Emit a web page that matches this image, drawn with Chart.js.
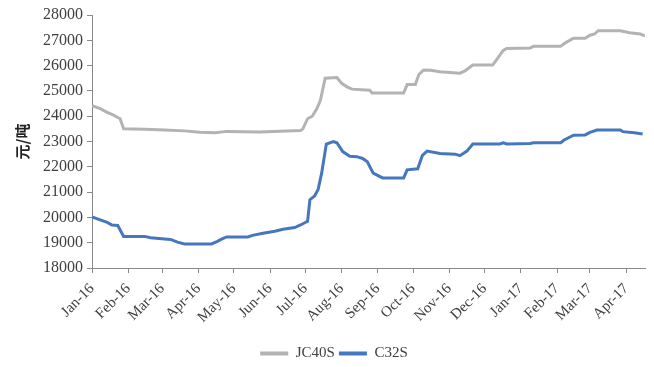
<!DOCTYPE html>
<html>
<head>
<meta charset="utf-8">
<script src="https://cdn.jsdelivr.net/npm/chart.js@4.4.1/dist/chart.umd.min.js"></script>
<style>
  html, body { margin: 0; padding: 0; background: #fff; }
  #wrap { width: 654px; height: 367px; }
</style>
</head>
<body>
<div id="wrap"><canvas id="priceChart" width="654" height="367"></canvas></div>
<script>
// x values are days counted from 1 Jan 2016
const monthDays = [0, 31, 60, 91, 121, 152, 182, 213, 244, 274, 305, 335, 366, 397, 425, 456];
const monthLabels = ['Jan-16', 'Feb-16', 'Mar-16', 'Apr-16', 'May-16', 'Jun-16', 'Jul-16', 'Aug-16',
    'Sep-16', 'Oct-16', 'Nov-16', 'Dec-16', 'Jan-17', 'Feb-17', 'Mar-17', 'Apr-17'];

const jcDays = [0, 7, 13, 18, 22, 24, 27, 45, 62, 79, 92, 105, 115, 143, 178, 180, 184, 188, 192, 195,
    199, 209, 213, 218, 222, 237, 239, 266, 269, 276, 279, 283, 289, 297, 314, 318, 325, 342, 346, 351,
    354, 374, 377, 400, 404, 411, 421, 425, 429, 432, 451, 459, 468, 472];
const jcValues = [24420, 24300, 24150, 24050, 23950, 23900, 23500, 23480, 23450, 23420, 23370, 23350,
    23400, 23380, 23430, 23500, 23900, 24000, 24300, 24640, 25500, 25530, 25300, 25150, 25070, 25030,
    24920, 24920, 25250, 25250, 25650, 25830, 25820, 25760, 25700, 25780, 26020, 26020, 26280, 26600,
    26680, 26700, 26760, 26760, 26900, 27080, 27080, 27200, 27250, 27380, 27380, 27300, 27250, 27180];

const cDays = [0, 7, 13, 17, 22, 27, 45, 50, 62, 67, 73, 79, 102, 107, 111, 115, 133, 137, 146, 156,
    163, 173, 178, 182, 184, 186, 190, 193, 196, 200, 206, 209, 214, 220, 226, 231, 235, 240, 248, 266,
    269, 278, 282, 286, 297, 310, 314, 320, 325, 348, 351, 354, 374, 377, 400, 403, 411, 421, 425, 431,
    451, 453, 463, 470];
const cValues = [20020, 19900, 19800, 19700, 19680, 19250, 19250, 19200, 19150, 19130, 19020, 18950,
    18950, 19050, 19150, 19230, 19230, 19290, 19370, 19450, 19530, 19600, 19700, 19800, 19850, 20700,
    20850, 21100, 21750, 22900, 23000, 22950, 22600, 22420, 22400, 22330, 22200, 21750, 21560, 21560,
    21880, 21920, 22450, 22620, 22530, 22500, 22440, 22620, 22900, 22900, 22950, 22900, 22920, 22950,
    22950, 23060, 23250, 23260, 23360, 23450, 23450, 23390, 23350, 23300];

const toPoints = (days, values) => days.map((d, i) => ({ x: d, y: values[i] }));

const serif = "'Liberation Serif', 'DejaVu Serif', serif";
const axisGray = '#898989';
const textColor = '#404040';

new Chart(document.getElementById('priceChart'), {
    type: 'line',
    data: {
        datasets: [{
            label: 'JC40S',
            data: toPoints(jcDays, jcValues),
            borderColor: '#B3B3B3',
            backgroundColor: '#B3B3B3',
            borderWidth: 3,
            pointRadius: 0,
            tension: 0
        }, {
            label: 'C32S',
            data: toPoints(cDays, cValues),
            borderColor: '#4677BE',
            backgroundColor: '#4677BE',
            borderWidth: 3,
            pointRadius: 0,
            tension: 0
        }]
    },
    options: {
        responsive: false,
        animation: false,
        layout: { padding: { top: 15, right: 9, left: 23, bottom: -4 } },
        plugins: {
            legend: {
                position: 'bottom',
                labels: {
                    boxWidth: 28,
                    boxHeight: 0,
                    font: { family: serif, size: 15 },
                    color: textColor,
                    padding: 4,
                    generateLabels: chart => chart.data.datasets.map((ds, i) => ({
                        text: ds.label,
                        strokeStyle: ds.borderColor,
                        fillStyle: ds.borderColor,
                        lineWidth: 4,
                        fontColor: textColor,
                        datasetIndex: i
                    }))
                }
            },
            tooltip: { enabled: false }
        },
        scales: {
            x: {
                type: 'linear',
                min: 0,
                max: 472,
                afterBuildTicks: scale => {
                    scale.ticks = monthDays.map(v => ({ value: v }));
                },
                afterFit: scale => { scale.height = 74; },
                ticks: {
                    autoSkip: false,
                    maxRotation: 45,
                    minRotation: 45,
                    padding: 7,
                    font: { family: serif, size: 15 },
                    color: textColor,
                    callback: value => monthLabels[monthDays.indexOf(value)]
                },
                grid: { drawOnChartArea: false, drawTicks: true, tickLength: 5, color: axisGray },
                border: { color: axisGray, width: 1 }
            },
            y: {
                min: 18000,
                max: 28000,
                afterFit: scale => { scale.width = 69; },
                ticks: {
                    stepSize: 1000,
                    font: { family: serif, size: 16 },
                    color: textColor,
                    padding: 4,
                    callback: value => String(value)
                },
                title: {
                    display: true,
                    text: '元/吨',
                    font: { family: "'Noto Sans CJK SC', sans-serif", size: 15, weight: 'bold' },
                    color: '#222',
                    padding: { top: -10, bottom: 6 }
                },
                grid: { drawOnChartArea: false, drawTicks: true, tickLength: 5, color: axisGray },
                border: { color: axisGray, width: 1 }
            }
        }
    }
});
</script>
</body>
</html>
